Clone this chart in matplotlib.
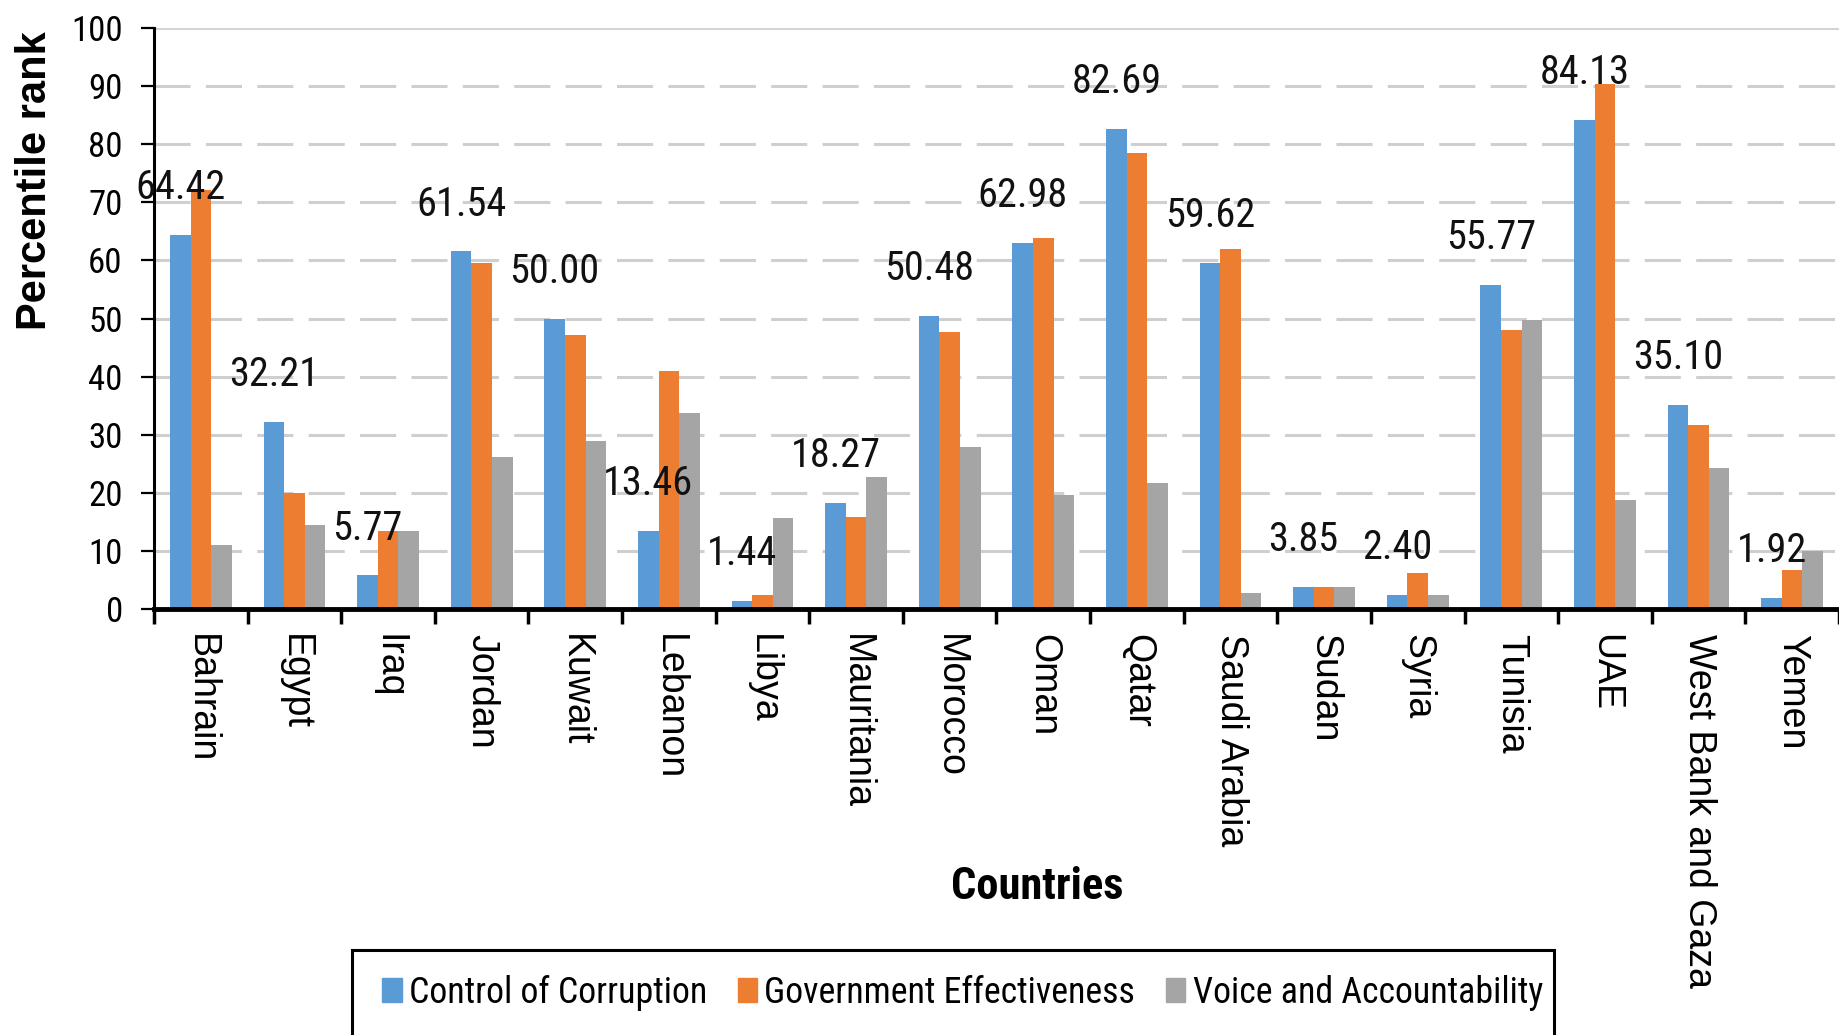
import numpy as np
import matplotlib
matplotlib.use('Agg')
import matplotlib.pyplot as plt
from matplotlib import font_manager
from matplotlib.patches import Rectangle

countries = ['Bahrain', 'Egypt', 'Iraq', 'Jordan', 'Kuwait', 'Lebanon', 'Libya',
             'Mauritania', 'Morocco', 'Oman', 'Qatar', 'Saudi Arabia', 'Sudan',
             'Syria', 'Tunisia', 'UAE', 'West Bank and Gaza', 'Yemen']

# percentile ranks per indicator
control_corruption = [64.42, 32.21, 5.77, 61.54, 50.00, 13.46, 1.44, 18.27, 50.48,
                      62.98, 82.69, 59.62, 3.85, 2.40, 55.77, 84.13, 35.10, 1.92]
gov_effectiveness = [72.1, 19.9, 13.5, 59.6, 47.1, 40.9, 2.4, 15.9, 47.6,
                     63.9, 78.4, 62.0, 3.85, 6.25, 48.1, 90.4, 31.7, 6.7]
voice_account = [11.0, 14.4, 13.4, 26.1, 28.9, 33.7, 15.6, 22.7, 27.8,
                 19.6, 21.7, 2.8, 3.85, 2.4, 49.8, 18.8, 24.2, 9.9]

series_names = ['Control of Corruption', 'Government Effectiveness',
                'Voice and Accountability']
colors = ['#5B9BD5', '#ED7D31', '#A5A5A5']

# condensed face if one is around, otherwise plain Liberation Sans at a smaller size
installed = {f.name for f in font_manager.fontManager.ttflist}
narrow = None
for name in ['Liberation Sans Narrow', 'Roboto Condensed', 'Open Sans Condensed']:
    if name in installed:
        narrow = name
        break
if narrow:
    nfam, k = [narrow, 'DejaVu Sans'], 1.0
else:
    nfam, k = ['Liberation Sans', 'DejaVu Sans'], 0.8
regular = ['Liberation Sans', 'DejaVu Sans']

plt.rcParams['lines.scale_dashes'] = False

W, H = 1839, 1035
fig = plt.figure(figsize=(W / 100, H / 100), dpi=100)
ax = fig.add_axes([154 / W, 1 - 609 / H, (W - 154) / W, (609 - 28) / H])

x = np.arange(len(countries))
w = 0.22
ax.bar(x - w, control_corruption, w, color=colors[0], zorder=2)
ax.bar(x, gov_effectiveness, w, color=colors[1], zorder=2)
ax.bar(x + w, voice_account, w, color=colors[2], zorder=2)

# value labels above the first series
for xi, v in zip(x, control_corruption):
    ax.annotate('{:.2f}'.format(v), xy=(xi - w, v), xytext=(0, 34),
                textcoords='offset points', ha='center', va='center',
                fontsize=29 * k, family=nfam, color='#111111', zorder=3)

ax.set_xlim(-0.5, len(countries) - 0.5)
ax.set_ylim(0, 100)

# gridlines
for g in range(10, 100, 10):
    ax.axhline(g, color='#cfcfcf', lw=2.2, linestyle=(0, (26, 11)), zorder=1)
ax.axhline(100, color='#d4d4d4', lw=2.2, zorder=1)

ax.spines['top'].set_visible(False)
ax.spines['right'].set_visible(False)
ax.spines['left'].set_linewidth(2.2)
ax.spines['bottom'].set_linewidth(3.5)

ax.set_yticks(range(0, 101, 10))
ax.set_yticklabels([str(t) for t in range(0, 101, 10)], family=nfam,
                   fontsize=25 * k)
ax.tick_params(axis='y', length=9.5, width=1.6, pad=13)

ax.set_xticks(x)
ax.set_xticklabels(countries, rotation=-90, family=regular, fontsize=27)
ax.tick_params(axis='x', which='major', length=0, pad=18)
ax.set_xticks(np.arange(-0.5, len(countries), 1), minor=True)
ax.tick_params(axis='x', which='minor', length=11, width=2.5, direction='out')

fig.text(35 / W, 1 - 181 / H, 'Percentile rank', rotation=90, ha='center',
         va='center', fontsize=30, fontweight='bold', family=regular)
fig.text(1037 / W, 1 - 887 / H, 'Countries', ha='center', va='center',
         fontsize=32 * k, fontweight='bold', family=nfam)

# legend box
fig.add_artist(Rectangle((352 / W, 1 - 1045 / H), (1554 - 352) / W, 95 / H,
                         transform=fig.transFigure, fill=False, ec='black',
                         lw=2.2, clip_on=False))
handles = [Rectangle((0, 0), 1, 1, color=c) for c in colors]
fig.legend(handles, series_names, loc='center left',
           bbox_to_anchor=(382 / W, 1 - 993 / H), ncol=3, frameon=False,
           prop={'family': nfam, 'size': 25.8 * k}, handlelength=0.55,
           handleheight=0.65, handletextpad=0.2, columnspacing=0.85,
           borderpad=0, borderaxespad=0)

fig.savefig('out.png', dpi=100)
